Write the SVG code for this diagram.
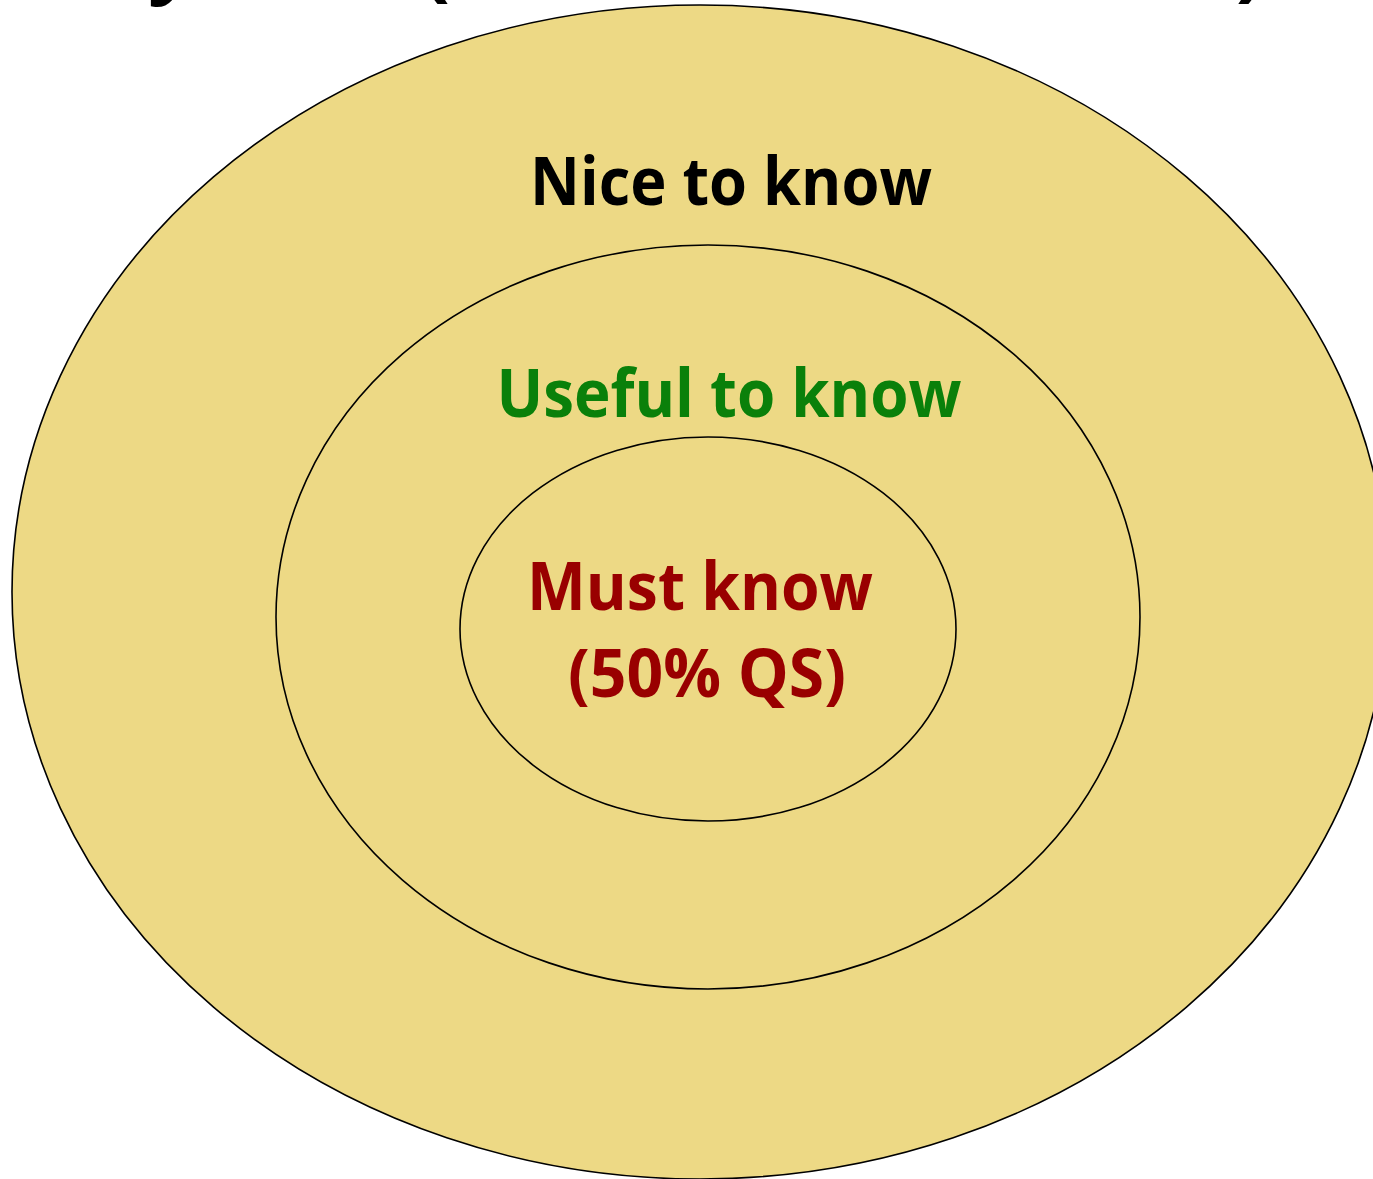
<svg xmlns="http://www.w3.org/2000/svg" width="1373" height="1179" viewBox="0 0 1373 1179">
<style>
.ring{fill:#EDD985;stroke:#000;stroke-width:1.6}
.lbl{font-family:"Open Sans","Liberation Sans",sans-serif;font-weight:bold;font-size:66px;text-anchor:middle}
.title{font-family:"Open Sans","Liberation Sans",sans-serif;font-weight:bold;font-size:84px;text-anchor:middle;fill:#000}
</style>
<rect width="1373" height="1179" fill="#fff"/>
<g id="title-fragment">
<text class="title" x="172" y="-13">y</text>
<text class="title" x="436" y="-9">(</text>
<text class="title" x="1250" y="-9">)</text>
</g>
<g id="nice">
<ellipse class="ring" cx="700" cy="592" rx="688" ry="587"/>
<text class="lbl" x="731" y="205" fill="#000" textLength="402" lengthAdjust="spacingAndGlyphs">Nice to know</text>
</g>
<g id="useful">
<ellipse class="ring" cx="708" cy="617" rx="432" ry="372"/>
<text class="lbl" x="729" y="417" fill="#0A800A" textLength="465" lengthAdjust="spacingAndGlyphs">Useful to know</text>
</g>
<g id="must">
<ellipse class="ring" cx="708" cy="629" rx="248" ry="192"/>
<text class="lbl" x="700" y="610" fill="#990000" textLength="346" lengthAdjust="spacingAndGlyphs">Must know</text>
<text class="lbl" x="707" y="697" fill="#990000" textLength="278" lengthAdjust="spacingAndGlyphs">(50% QS)</text>
</g>
<g id="connectors"/>
</svg>
